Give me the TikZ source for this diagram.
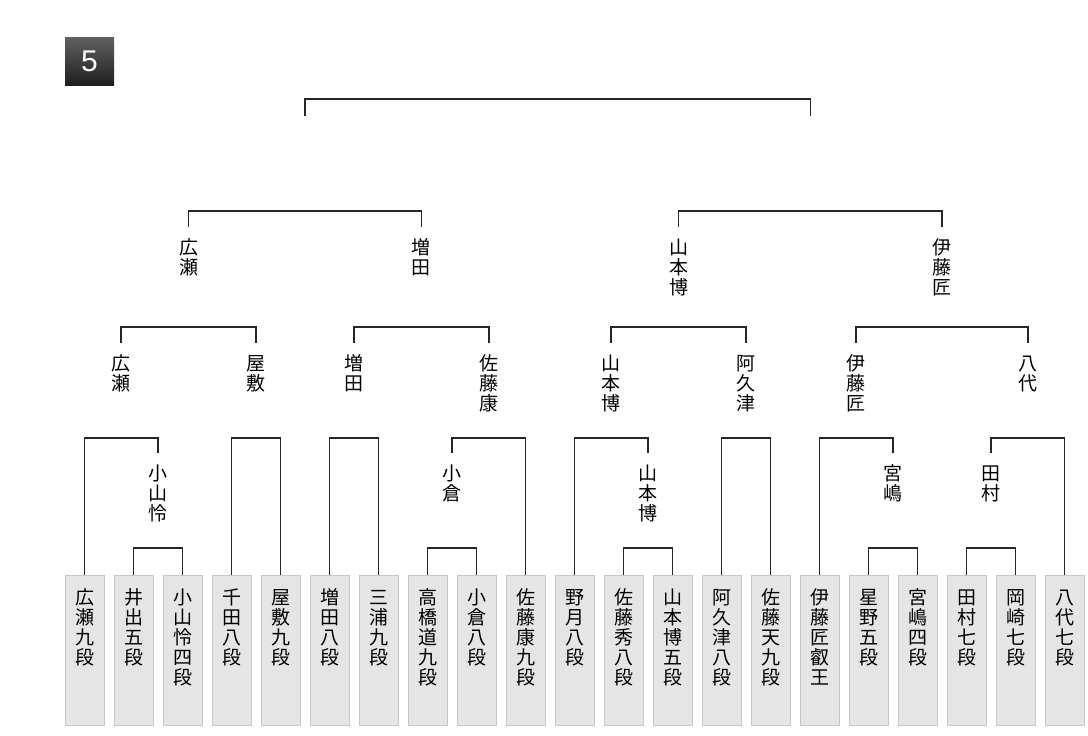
\documentclass[tikz,border=0pt]{standalone}
\usepackage{fontspec}
\setmainfont{Liberation Sans}
\newfontfamily\jp{Noto Sans CJK JP}
\usetikzlibrary{calc}

\begin{document}
\begin{tikzpicture}[x=1pt,y=-1pt,
    bline/.style={line width=1.6pt,black!85},
    leaf/.style={draw=black!22,fill=black!10,line width=.8pt,anchor=north,
        minimum width=39pt,inner sep=0pt,text width=39pt,align=center,
        text height=29pt,text depth=121pt,font=\jp\fontsize{19}{20}\selectfont},
    winner/.style={anchor=north,inner sep=0pt,text width=24pt,align=center,
        text height=27pt,font=\jp\fontsize{19}{20}\selectfont},
    numbox/.style={minimum width=49pt,minimum height=48pt,inner sep=0pt,
        top color=black!62,bottom color=black!88,text=white,
        font=\fontsize{30}{32}\selectfont}]
    \useasboundingbox (0,0) rectangle (1088,736);

    \node[numbox] (rnd) at (89.5,61) {5};

    % players
    \foreach \n [count=\i from 0] in {広\\瀬\\九\\段,井\\出\\五\\段,小\\山\\怜\\四\\段,
        千\\田\\八\\段,屋\\敷\\九\\段,増\\田\\八\\段,三\\浦\\九\\段,高\\橋\\道\\九\\段,
        小\\倉\\八\\段,佐\\藤\\康\\九\\段,野\\月\\八\\段,佐\\藤\\秀\\八\\段,
        山\\本\\博\\五\\段,阿\\久\\津\\八\\段,佐\\藤\\天\\九\\段,伊\\藤\\匠\\叡\\王,
        星\\野\\五\\段,宮\\嶋\\四\\段,田\\村\\七\\段,岡\\崎\\七\\段,八\\代\\七\\段}{
        \node[leaf] (l\i) at ({84.5+49*\i},575) {\n};
    }

    % winners
    \node[winner] (koyama) at (158,453) {小\\山\\怜};
    \node[winner] (ogura) at (452,453) {小\\倉};
    \node[winner] (yamamotoa) at (648,453) {山\\本\\博};
    \node[winner] (miyajima) at (893,453) {宮\\嶋};
    \node[winner] (tamura) at (991,453) {田\\村};

    \node[winner] (hirosea) at (121.25,343) {広\\瀬};
    \node[winner] (yashiki) at (256,343) {屋\\敷};
    \node[winner] (masudaa) at (354,343) {増\\田};
    \node[winner] (sato) at (488.75,343) {佐\\藤\\康};
    \node[winner] (yamamotob) at (611.25,343) {山\\本\\博};
    \node[winner] (akutsu) at (746,343) {阿\\久\\津};
    \node[winner] (itoa) at (856.25,343) {伊\\藤\\匠};
    \node[winner] (yashiro) at (1027.75,343) {八\\代};

    \node[winner] (hiroseb) at (188.6,227) {広\\瀬};
    \node[winner] (masudab) at (421.4,227) {増\\田};
    \node[winner] (yamamotoc) at (678.6,227) {山\\本\\博};
    \node[winner] (itob) at (942,227) {伊\\藤\\匠};

    \coordinate (semi1) at (305,116);
    \coordinate (semi2) at (810.3,116);

    % brackets
    \foreach \a/\b/\y in {l1/l2/548,l7/l8/548,l11/l12/548,l16/l17/548,l18/l19/548,
        l0/koyama/438,l3/l4/438,l5/l6/438,ogura/l9/438,l10/yamamotoa/438,
        l13/l14/438,l15/miyajima/438,tamura/l20/438,
        hirosea/yashiki/327,masudaa/sato/327,yamamotob/akutsu/327,itoa/yashiro/327,
        hiroseb/masudab/211,yamamotoc/itob/211}{
        \draw[bline] (\a.north) -- (\a.north |- 0,\y) -| (\b.north);
    }
    \draw[bline] (semi1) -- (semi1 |- 0,99) -| (semi2);
\end{tikzpicture}
\end{document}
